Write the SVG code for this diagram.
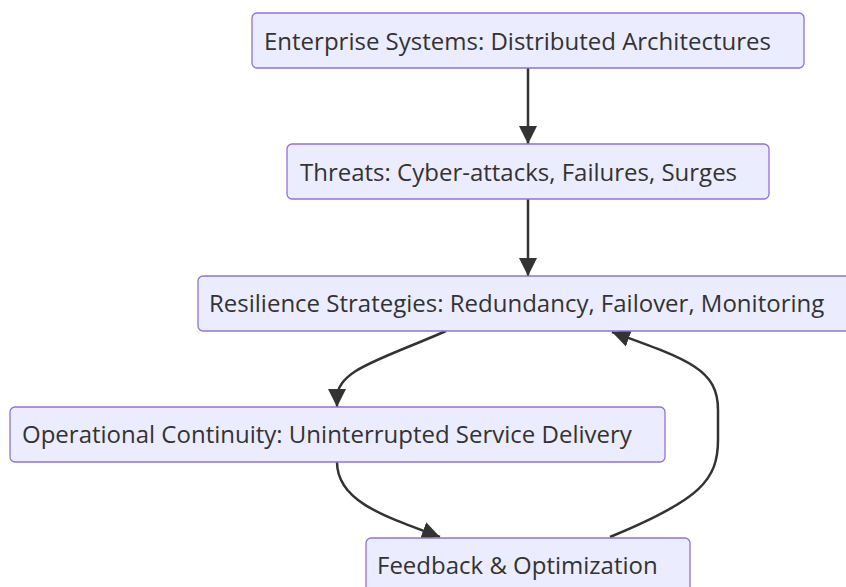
<svg xmlns="http://www.w3.org/2000/svg" width="846" height="587" viewBox="0 0 846 587">
<style>
.node rect{fill:#ECECFF;stroke:#9370DB;stroke-width:1.3}
.node text{font-family:"Open Sans","Noto Sans","Liberation Sans",sans-serif;font-size:24px;fill:#333333}
.edge{fill:none;stroke:#333333;stroke-width:2.5}
</style>
<defs>
<marker id="arr" viewBox="0 0 10 10" refX="10" refY="5" markerUnits="userSpaceOnUse" markerWidth="18" markerHeight="19" orient="auto">
<path d="M0,0 L10,5 L0,10 z" fill="#333333"/>
</marker>
</defs>
<rect width="846" height="587" fill="#ffffff"/>
<g id="edges">
<path class="edge" d="M528,68 L528,144" marker-end="url(#arr)"/>
<path class="edge" d="M528,199 L528,276" marker-end="url(#arr)"/>
<path class="edge" d="M446,331 C380,360 337,370 337,398 L337,407" marker-end="url(#arr)"/>
<path class="edge" d="M337,462 C337,500 380,515 440,537" marker-end="url(#arr)"/>
<path class="edge" d="M610,537 C700,500 718,480 718,440 L718,410 C718,370 690,360 612,332" marker-end="url(#arr)"/>
</g>
<g id="n1" class="node"><rect x="252" y="13" width="552" height="55" rx="5"/><text x="264" y="50">Enterprise Systems: Distributed Architectures</text></g>
<g id="n2" class="node"><rect x="287" y="144" width="482" height="55" rx="5"/><text x="300" y="181">Threats: Cyber-attacks, Failures, Surges</text></g>
<g id="n3" class="node"><rect x="198" y="276" width="660" height="55" rx="5"/><text x="209" y="312">Resilience Strategies: Redundancy, Failover, Monitoring</text></g>
<g id="n4" class="node"><rect x="10" y="407" width="655" height="55" rx="5"/><text x="22" y="443">Operational Continuity: Uninterrupted Service Delivery</text></g>
<g id="n5" class="node"><rect x="366" y="538" width="324" height="60" rx="5"/><text x="377" y="574">Feedback &amp; Optimization</text></g>
</svg>
